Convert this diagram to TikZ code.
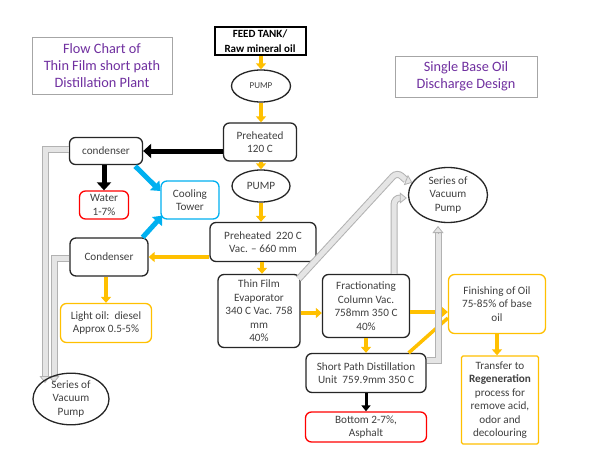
\documentclass[tikz,border=0pt]{standalone}
\usepackage{fontspec}
\setmainfont{Carlito}
\usetikzlibrary{arrows.meta,calc,shapes.geometric}
\definecolor{gold}{HTML}{FFC000}
\definecolor{rred}{HTML}{FF0000}
\definecolor{sky}{HTML}{00B0F0}
\definecolor{purp}{HTML}{7030A0}
\definecolor{txt}{HTML}{404040}
\tikzset{
  box/.style={draw=black!85, line width=1.3pt, rounded corners=6pt, align=center,
    text=txt, font=\fontsize{11.2}{13.5}\selectfont, inner sep=0pt},
  ell/.style={box, ellipse, rounded corners=0pt},
  redbox/.style={box, draw=rred},
  goldbox/.style={box, draw=gold},
  bluebox/.style={box, draw=sky},
  titlebox/.style={draw=gray!70, line width=0.9pt, align=center, text=purp,
    font=\fontsize{14.3}{17}\selectfont, inner sep=0pt},
  oarr/.style={draw=gold, line width=3.5pt, -{Triangle[width=10pt,length=6pt]}},
  oline/.style={draw=gold, line width=3.5pt},
  barr/.style={draw=black, line width=5pt, -{Triangle[width=14pt,length=8pt]}},
  sbarr/.style={draw=black, line width=3pt, -{Triangle[width=9pt,length=6pt]}},
  blarr/.style={draw=sky, line width=5pt, -{Triangle[width=13pt,length=8pt]}},
  pipe/.style={draw=gray!60, line width=1pt, double=gray!20, double distance=5pt},
  pipetip/.style={draw=gray!60, line width=0.8pt, -{Triangle[width=11pt,length=7pt,fill=gray!20]}}
}
\begin{document}
\begin{tikzpicture}[x=1pt,y=-1pt]
\useasboundingbox (0,0) rectangle (595,460);
\fill[white] (0,0) rectangle (595,460);

% titles
\node[titlebox, minimum width=140pt, minimum height=57pt] (t1) at (102,65.5)
  {Flow Chart of\\Thin Film short path\\Distillation Plant};
\node[titlebox, minimum width=142pt, minimum height=41pt] (t2) at (466,76.5)
  {Single Base Oil\\Discharge Design};

% main column
\node[box, rounded corners=0pt, line width=2pt, draw=black, text=black,
  font=\bfseries\fontsize{11}{14.5}\selectfont, minimum width=91pt, minimum height=28pt] (feed) at (260,41)
  {FEED TANK/\\Raw mineral oil};
\node[ell, font=\fontsize{9}{10}\selectfont, minimum width=59pt, minimum height=32pt] (pump1) at (261,86) {PUMP};
\node[box, minimum width=73pt, minimum height=38pt] (pre1) at (260,142) {Preheated\\120 C};
\node[ell, minimum width=58pt, minimum height=32pt] (pump2) at (261,186) {PUMP};
\node[box, minimum width=106pt, minimum height=39pt] (pre2) at (263,242) {Preheated\ \ 220 C\\Vac. -- 660 mm};
\node[box, minimum width=82pt, minimum height=73pt] (tfe) at (259,311)
  {Thin Film\\Evaporator\\340 C Vac. 758\\mm\\40\%};
\node[box, minimum width=87pt, minimum height=63pt] (frac) at (366,306)
  {Fractionating\\Column Vac.\\758mm 350 C\\40\%};
\node[box, minimum width=120pt, minimum height=39pt] (spd) at (366,373)
  {Short Path Distillation\\Unit\ \ 759.9mm 350 C};
\node[redbox, minimum width=121pt, minimum height=30pt] (bottom) at (366,427)
  {Bottom 2-7\%,\\Asphalt};
\node[goldbox, minimum width=97pt, minimum height=59pt] (fin) at (497,304)
  {Finishing of Oil\\75-85\% of base\\oil};
\node[goldbox, rounded corners=1.5pt, minimum width=77pt, minimum height=88pt] (trans) at (500,400)
  {Transfer to\\\textbf{Regeneration}\\process for\\remove acid,\\odor and\\decolouring};
\node[ell, minimum width=79pt, minimum height=55pt] (vpr) at (448,195)
  {Series of\\Vacuum\\Pump};

% left side
\node[box, minimum width=73pt, minimum height=27pt] (cond1) at (106,151) {condenser};
\node[redbox, minimum width=49pt, minimum height=28pt] (water) at (104,205) {Water\\1-7\%};
\node[bluebox, minimum width=58pt, minimum height=38pt] (cool) at (190,200) {Cooling\\Tower};
\node[box, minimum width=78pt, minimum height=38pt] (cond2) at (109,257) {Condenser};
\node[goldbox, minimum width=91pt, minimum height=39pt] (light) at (106,323)
  {Light oil:\ \ diesel\\Approx 0.5-5\%};

% grey vacuum pipes (left)
\coordinate (pa1) at ($(cond1.west)+(0,-2)$);
\coordinate (pa2) at (45,0);
\coordinate (pb1) at ($(cond2.west)+(0,1)$);
\coordinate (pb2) at (54,0);
\draw[pipe] (pa1) -- (pa1 -| pa2) -- (pa2 |- 0,376);
\draw[pipe] (pb1) -- (pb1 -| pb2) -- (pb2 |- 0,376);

% orange flow
\draw[oarr] (feed.south -| pump1) -- (pump1.north);
\draw[oarr] (pump1.south) -- (pump1.south |- pre1.north);
\draw[oarr] (pre1.south -| pump2) -- (pump2.north);
\draw[oarr] (pump2.south) -- (pump2.south |- pre2.north);
\draw[oarr] ($(pre2.south)+(-1,0)$) -- ($(pre2.south |- tfe.north)+(-1,0)$);
\draw[oarr] (pre2.west |- cond2) -- (cond2.east);
\draw[oarr] (cond2.south -| light) -- (light.north);
\draw[oarr] (tfe.east |- 0,313) -- (frac.west |- 0,313);
\draw[oarr] (frac.south) -- (spd.north);
\draw[oarr] (frac.east |- 0,312) -- (fin.west |- 0,312);
\draw[oline] ($(spd.north east)+(-18,0)$) -- ($(fin.west)+(0,14)$);
\draw[oarr] (fin.south) -- (fin.south |- trans.north);

% black flow
\draw[barr] (pre1.west |- cond1) -- (cond1.east);
\draw[barr] (cond1.south -| water) -- (water.north);
\draw[sbarr] (spd.south) -- (bottom.north);

% blue flow
\draw[blarr] ($(cond1.south east)+(-8,1)$) -- ($(cool.west)+(0,-9)$);
\draw[blarr] ($(cond2.north east)+(-6,0)$) -- ($(cool.south west)+(2,-4)$);

% grey vacuum pipes (right)
\coordinate (pc0) at ($(tfe.north east)+(-2,5)$);
\coordinate (pc1) at (397,172);
\coordinate (pc2) at ($(vpr.west)+(-2,-15)$);
\draw[pipe, rounded corners=6pt] (pc0) -- (pc1) -- (pc2);
\coordinate (pd0) at ($(frac.north east)+(-16,0)$);
\coordinate (pd1) at (0,198);
\coordinate (pd2) at ($(vpr.west)+(-8,3)$);
\draw[pipe, rounded corners=6pt] (pd0) -- (pd0 |- pd1) -- (pd2 |- pd1);
\coordinate (pe0) at ($(spd.east)+(0,-13)$);
\coordinate (pe1) at (438,0);
\draw[pipe] (pe0) -- (pe0 -| pe1) -- (pe1 |- 0,233);

% pipe tips
\draw[pipetip] (pa2 |- 0,376) -- (pa2 |- 0,383);
\draw[pipetip] (pb2 |- 0,376) -- (pb2 |- 0,383);
\draw[pipetip] (pc2) -- ($(pc2)!7pt!($(pc2)+(15,6)$)$);
\draw[pipetip] (pd2 |- pd1) -- ($(pd2 |- pd1)+(7,0)$);
\draw[pipetip] (pe1 |- 0,233) -- (pe1 |- 0,226);

% left vacuum pump (text overflows, drawn last)
\node[ell, minimum width=76pt, minimum height=42pt, fill=none] (vpl) at (71,399)
  {Series of\\Vacuum\\Pump};
\end{tikzpicture}
\end{document}
